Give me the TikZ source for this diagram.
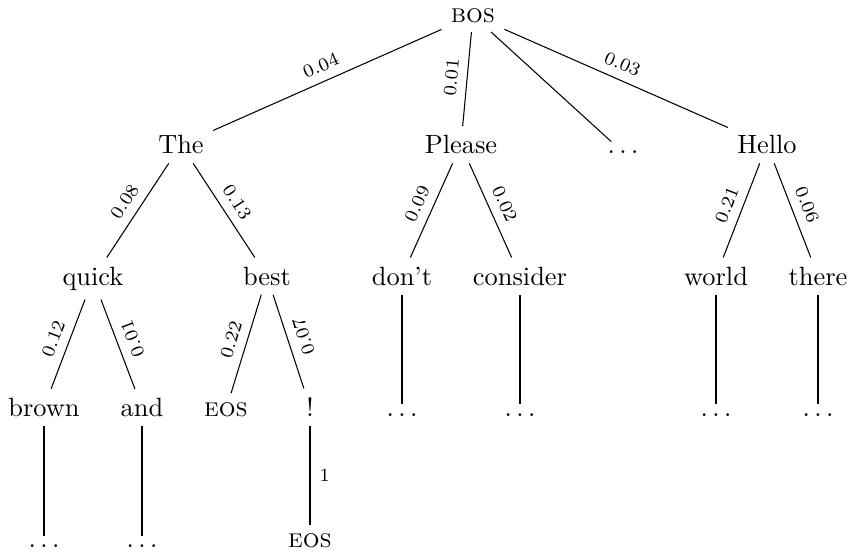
\documentclass[tikz,border=0pt]{standalone}

\tikzset{
  tok/.style={anchor=base},
  prob/.style={font=\scriptsize,midway,sloped,above},
}

\begin{document}
\begin{tikzpicture}
  \useasboundingbox (0,0) rectangle (11.305,7.377);
  % Root and first level
  \node[tok]  (bos)      at (6.298,7.08) {\textsc{bos}};
  \node[tok]  (the)      at (2.410,5.33) {The};
  \node[tok]  (please)   at (6.138,5.33) {Please};
  \node[tok]  (more)     at (8.296,5.33) {$\ldots$};
  \node[tok]  (hello)    at (10.213,5.33) {Hello};
  \draw (bos) -- node[prob] {0.04} (the);
  \draw (bos) -- node[prob] {0.01} (please);
  \draw (bos) -- (more);
  \draw (bos) -- node[prob] {0.03} (hello);
  % Second level
  \node[tok]  (quick)    at (1.238,3.58) {quick};
  \node[tok]  (best)     at (3.555,3.58) {best};
  \node[tok]  (dont)     at (5.353,3.58) {don't};
  \node[tok]  (consider) at (6.924,3.58) {consider};
  \node[tok]  (world)    at (9.534,3.58) {world};
  \node[tok]  (there)    at (10.892,3.58) {there};
  \draw (the) -- node[prob] {0.08} (quick);
  \draw (the) -- node[prob] {0.13} (best);
  \draw (please) -- node[prob] {0.09} (dont);
  \draw (please) -- node[prob] {0.02} (consider);
  \draw (hello) -- node[prob] {0.21} (world);
  \draw (hello) -- node[prob] {0.06} (there);
  % Third level
  \node[tok]  (brown)    at (0.586,1.83) {brown};
  \node[tok]  (and)      at (1.891,1.83) {and};
  \node[tok]  (eosA)     at (3.009,1.83) {\textsc{eos}};
  \node[tok]  (excl)     at (4.128,1.83) {!};
  \node[tok]  (dontM)    at (5.353,1.83) {$\ldots$};
  \node[tok]  (consM)    at (6.924,1.83) {$\ldots$};
  \node[tok]  (worldM)   at (9.534,1.83) {$\ldots$};
  \node[tok]  (thereM)   at (10.892,1.83) {$\ldots$};
  \draw (quick) -- node[prob] {0.12} (brown);
  \draw (and) -- node[prob,below,allow upside down] {0.01} (quick);
  \draw (best) -- node[prob] {0.22} (eosA);
  \draw (excl) -- node[prob,below,allow upside down] {0.07} (best);
  \draw (dont) -- (dontM);
  \draw (consider) -- (consM);
  \draw (world) -- (worldM);
  \draw (there) -- (thereM);
  % Fourth level
  \node[tok]  (brownM)   at (0.586,0.08) {$\ldots$};
  \node[tok]  (andM)     at (1.891,0.08) {$\ldots$};
  \node[tok]  (eosB)     at (4.128,0.08) {\textsc{eos}};
  \draw (brown) -- (brownM);
  \draw (and) -- (andM);
  \draw (excl) -- node[font=\scriptsize,midway,right] {1} (eosB);
\end{tikzpicture}
\end{document}
